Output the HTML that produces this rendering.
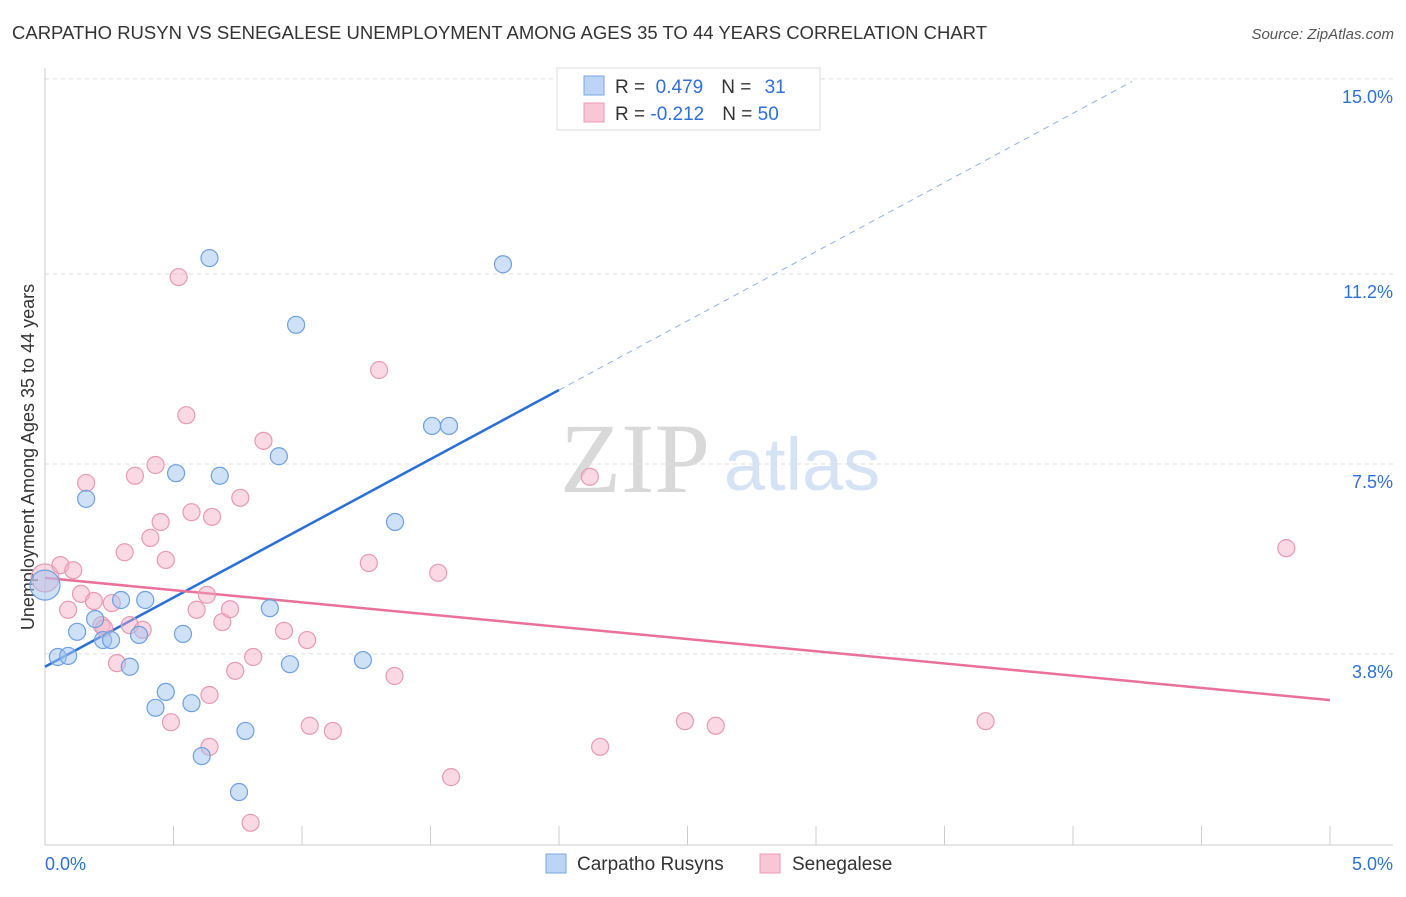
<!DOCTYPE html>
<html><head><meta charset="utf-8"><style>
body{margin:0;background:#fff;font-family:"Liberation Sans",sans-serif;}
svg text{font-family:"Liberation Sans",sans-serif;}
</style></head><body>
<svg width="1406" height="892" id="chart">
<text x="12" y="39" font-size="18" fill="#333" textLength="975" lengthAdjust="spacingAndGlyphs">CARPATHO RUSYN VS SENEGALESE UNEMPLOYMENT AMONG AGES 35 TO 44 YEARS CORRELATION CHART</text>
<text x="1394" y="39" font-size="15" fill="#555" text-anchor="end" font-style="italic">Source: ZipAtlas.com</text>
<text x="635" y="492" font-size="100" fill="#d9d9d9" style="font-family:'Liberation Serif',serif" text-anchor="middle">ZIP</text>
<text x="802" y="490" font-size="74" fill="#d6e3f5" text-anchor="middle">atlas</text>
<text transform="translate(34,457) rotate(-90)" font-size="18" fill="#333" text-anchor="middle">Unemployment Among Ages 35 to 44 years</text>
<g id="grid"></g><g id="lines"></g><g id="pts"></g>
<g>
<rect x="557" y="68" width="263" height="62" fill="#fff" stroke="#ddd"/>
<rect x="584" y="76" width="20" height="19" fill="#bcd4f5" stroke="#7aa7e0"/>
<rect x="584" y="103" width="20" height="19" fill="#f9c6d6" stroke="#eb9ab5"/>
<text x="615" y="93" font-size="19" fill="#333">R = <tspan fill="#2f6fd6">&#160;0.479</tspan><tspan dx="18">N = </tspan><tspan fill="#2f6fd6" dx="8">31</tspan></text>
<text x="615" y="120" font-size="19" fill="#333">R = <tspan fill="#2f6fd6">-0.212</tspan><tspan dx="18">N = </tspan><tspan fill="#2f6fd6">50</tspan></text>
</g>
<g>
<rect x="546" y="854" width="20" height="19" fill="#bcd4f5" stroke="#7aa7e0"/>
<text x="577" y="870" font-size="19" fill="#333">Carpatho Rusyns</text>
<rect x="760" y="854" width="20" height="19" fill="#f9c6d6" stroke="#eb9ab5"/>
<text x="792" y="870" font-size="19" fill="#333">Senegalese</text>
</g>
<text x="45" y="870" font-size="18" fill="#2f6fd6">0.0%</text>
<text x="1393" y="870" font-size="18" fill="#2f6fd6" text-anchor="end">5.0%</text>
</svg>
<script>
const blueX=[0.00,0.05,0.09,0.125,0.16,0.195,0.226,0.257,0.296,0.33,0.366,0.39,0.43,0.47,0.51,0.537,0.57,0.61,0.64,0.68,0.755,0.78,0.875,0.91,0.953,0.977,1.237,1.362,1.506,1.572,1.782];
const blueY=[5.14,3.74,3.76,4.23,6.82,4.48,4.07,4.07,4.85,3.55,4.17,4.85,2.75,3.06,7.32,4.19,2.84,1.81,11.51,7.27,1.11,2.30,4.69,7.65,3.60,10.21,3.68,6.37,8.24,8.24,11.39];
const pinkX=[0.00,0.06,0.09,0.11,0.14,0.16,0.19,0.22,0.23,0.26,0.28,0.31,0.33,0.35,0.38,0.41,0.43,0.45,0.47,0.49,0.52,0.55,0.57,0.59,0.63,0.64,0.69,0.72,0.74,0.76,0.80,0.81,0.85,0.93,1.02,1.03,1.12,1.26,1.30,1.36,1.53,1.58,2.12,2.16,2.49,2.61,3.66,4.83,0.64,0.65];
const pinkY=[5.28,5.53,4.66,5.43,4.97,7.13,4.83,4.36,4.30,4.79,3.62,5.78,4.36,7.27,4.27,6.06,7.48,6.37,5.63,2.47,11.14,8.45,6.56,4.66,4.95,1.99,4.42,4.67,3.47,6.84,0.51,3.74,7.95,4.25,4.07,2.40,2.30,5.57,9.33,3.37,5.38,1.40,7.25,1.99,2.49,2.40,2.49,5.86,3.00,6.47];
const yTicks=[3.8,7.5,11.2,15.0];
const yTickLabels=["3.8%","7.5%","11.2%","15.0%"];
const xTicks=[0,0.5,1,1.5,2,2.5,3,3.5,4,4.5,5];
const blueLine=[3.55,2.695];
const blueSolidEnd=2.0, blueDashEnd=4.23;
const pinkLine=[5.28,-0.476];
const NS="http://www.w3.org/2000/svg";
const sx=v=>45+v*257, sy=v=>849-v*51.34;
function mk(tag,at,parent){const e=document.createElementNS(NS,tag);for(const k in at)e.setAttribute(k,at[k]);document.getElementById(parent).appendChild(e);return e;}
yTicks.forEach((t,i)=>{
 const g=mk('line',{x1:45,x2:1393,y1:sy(t),y2:sy(t),stroke:'#ddd','stroke-dasharray':'4,4'},'grid');
 
 
 const l=mk('text',{x:1393,y:sy(t)+24,'font-size':18,fill:'#2f6fd6','text-anchor':'end'},'grid');
 l.textContent=yTickLabels[i];
 
 
});
const ax=mk('line',{x1:45,x2:1393,y1:845,y2:845,stroke:'#ccc'},'grid');


const ay=mk('line',{x1:45,x2:45,y1:68,y2:845,stroke:'#ccc'},'grid');


xTicks.forEach(t=>{
 const e=mk('line',{x1:sx(t),x2:sx(t),y1:826,y2:845,stroke:'#ccc'},'grid');
 
 
});
let b1=mk('line',{x1:sx(0),y1:sy(blueLine[0]),x2:sx(blueSolidEnd),y2:sy(blueLine[0]+blueLine[1]*blueSolidEnd),stroke:'#2a6fd6','stroke-width':2.5},'lines');


let b2=mk('line',{x1:sx(blueSolidEnd),y1:sy(blueLine[0]+blueLine[1]*blueSolidEnd),x2:sx(blueDashEnd),y2:sy(blueLine[0]+blueLine[1]*blueDashEnd),stroke:'#8fb2e6','stroke-width':1,'stroke-dasharray':'6,5'},'lines');


let p1=mk('line',{x1:sx(0),y1:sy(pinkLine[0]),x2:sx(5),y2:sy(pinkLine[0]+pinkLine[1]*5),stroke:'#e8709a','stroke-width':2.5},'lines');


pinkX.forEach((x,i)=>{
 const c=mk('circle',{cx:sx(x),cy:sy(pinkY[i]),r:i==0?14:8.5,fill:'rgba(245,170,195,0.45)',stroke:'#e899b4','stroke-width':1.2},'pts');
 
 
});
blueX.forEach((x,i)=>{
 const c=mk('circle',{cx:sx(x),cy:sy(blueY[i]),r:i==0?15:8.5,fill:'rgba(160,195,240,0.5)',stroke:'#6e9fe0','stroke-width':1.2},'pts');
 
 
});
</script>
</body></html>
